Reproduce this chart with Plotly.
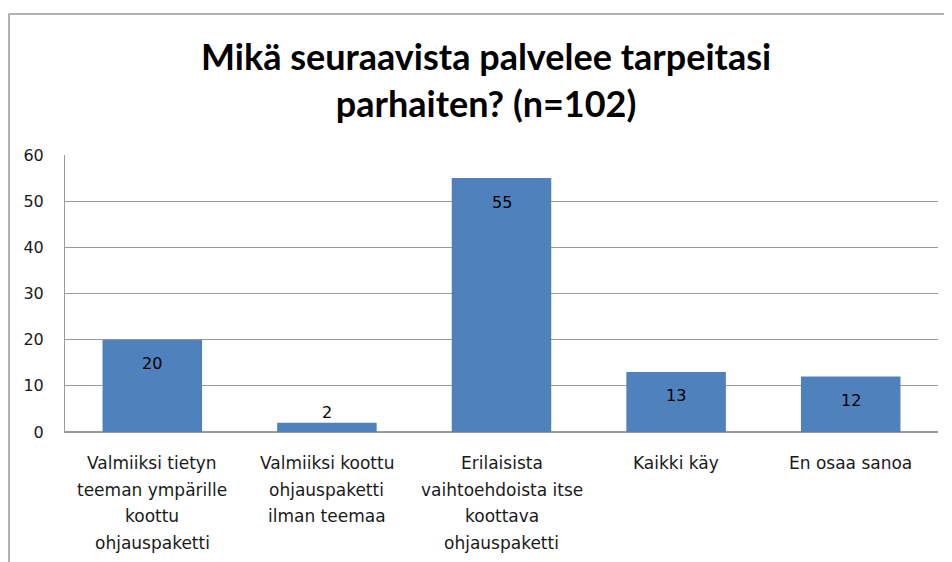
import plotly.graph_objects as go

categories = [
    "Valmiiksi tietyn<br>teeman ympärille<br>koottu<br>ohjauspaketti",
    "Valmiiksi koottu<br>ohjauspaketti<br>ilman teemaa",
    "Erilaisista<br>vaihtoehdoista itse<br>koottava<br>ohjauspaketti",
    "Kaikki käy",
    "En osaa sanoa",
]
values = [20, 2, 55, 13, 12]
y_ticks = [0, 10, 20, 30, 40, 50, 60]
title_text = "Mikä seuraavista palvelee tarpeitasi<br>parhaiten? (n=102)"

BAR = "#4F81BD"
GRID = "#9a9a9a"
LABEL_FONT = "DejaVu Sans"

# page body adds an 8px offset; work in figure coordinates
OFF = 8
W, H = 952 - OFF, 562 - OFF
L, T = 65 - OFF, 155 - OFF
R = W - (938 - OFF)
B = H - (432 - OFF)
pw, ph = W - L - R, H - T - B

fig = go.Figure()
fig.add_trace(go.Bar(
    x=list(range(len(categories))), y=values,
    marker=dict(color=BAR, line=dict(width=0)),
    width=0.57, hoverinfo="skip",
))

annotations = []
# value labels
for i, v in enumerate(values):
    inside = v >= 5
    annotations.append(dict(
        x=i, y=v, xref="x", yref="y", text=str(v), showarrow=False,
        yanchor="middle", yshift=-24 if inside else 10,
        font=dict(family=LABEL_FONT, size=16, color="#000000"),
    ))
# category labels, one annotation per line
for i, c in enumerate(categories):
    for j, line in enumerate(c.split("<br>")):
        annotations.append(dict(
            x=i, y=0, xref="x", yref="paper", text=line, showarrow=False,
            yanchor="middle", yshift=-31 - 26.7 * j,
            font=dict(family=LABEL_FONT, size=17, color="#1a1a1a"),
        ))
# title
annotations.append(dict(
    x=(486 - OFF - L) / pw, y=1 + (T - (80 - OFF)) / ph, xref="paper", yref="paper",
    text=title_text, showarrow=False, xanchor="center", yanchor="middle",
    font=dict(family="Lato", size=36, color="#000000", weight="bold"),
))

# outer chart frame
x0 = (9 - OFF - L) / pw
x1 = (W + 10 - L) / pw
y1 = 1 + (T - (14 - OFF)) / ph
y0 = -(H + 10 - (T + ph)) / ph

fig.update_layout(
    width=W, height=H,
    margin=dict(l=L, r=R, t=T, b=B, pad=0),
    paper_bgcolor="white", plot_bgcolor="white",
    showlegend=False,
    annotations=annotations,
    shapes=[dict(type="rect", xref="paper", yref="paper", x0=x0, x1=x1, y0=y0, y1=y1,
                 line=dict(color=GRID, width=1.5), fillcolor="rgba(0,0,0,0)", layer="below")],
    bargap=0.43,
)
fig.update_xaxes(
    range=[-0.5, len(categories) - 0.5], showticklabels=False, showgrid=False,
    showline=True, linecolor=GRID, linewidth=1, zeroline=False, ticks="",
)
fig.update_yaxes(
    range=[0, 60], tickvals=y_ticks, ticktext=[str(t) for t in y_ticks],
    showgrid=True, gridcolor=GRID, gridwidth=1,
    showline=True, linecolor=GRID, linewidth=1, zeroline=True, zerolinecolor=GRID,
    ticks="", ticklabelstandoff=17,
    tickfont=dict(family=LABEL_FONT, size=16, color="#1a1a1a"),
)

fig.write_html("out.html")
